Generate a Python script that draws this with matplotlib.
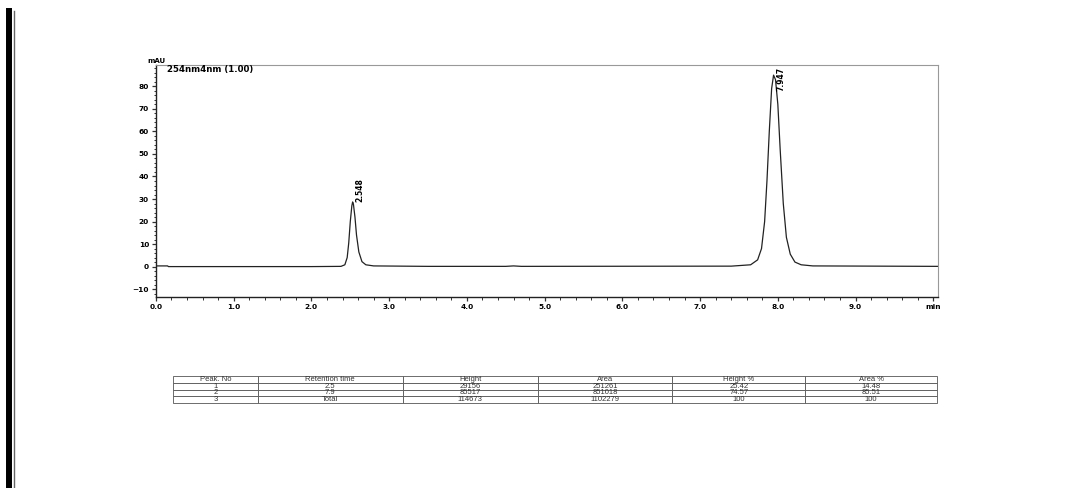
import matplotlib
matplotlib.use('Agg')
import matplotlib.pyplot as plt
from matplotlib.ticker import MultipleLocator, FixedLocator

# --- data ---
time_min = [0.0, 0.15, 0.16, 2.0, 2.38, 2.43, 2.46, 2.48, 2.50, 2.52, 2.53, 2.54, 2.56,
            2.58, 2.61, 2.65, 2.70, 2.80, 3.5, 4.5, 4.6, 4.7, 7.4, 7.65, 7.74, 7.79,
            7.83, 7.86, 7.89, 7.92, 7.945, 7.97, 8.00, 8.03, 8.07, 8.11, 8.16, 8.22,
            8.30, 8.45, 10.06]
signal_mau = [0.3, 0.3, 0.0, 0.0, 0.1, 0.8, 4.0, 10.5, 20.0, 27.0, 28.7, 27.8, 22.0,
              14.0, 6.5, 2.2, 0.8, 0.3, 0.1, 0.1, 0.3, 0.1, 0.2, 0.8, 3.0, 8.0,
              20.0, 38.0, 60.0, 79.0, 85.0, 83.0, 72.0, 52.0, 28.0, 13.0, 5.5, 2.0,
              0.8, 0.3, 0.1]

peak_labels = ['2.548', '7.947']
peak_times = [2.53, 7.945]
peak_tops = [28.7, 85.0]

table_cols = ['Peak. No', 'Retention time', 'Height', 'Area', 'Height %', 'Area %']
table_rows = [
    ['1', '2.5', '29156', '251261', '25.42', '14.48'],
    ['2', '7.9', '85517', '851018', '74.57', '85.51'],
    ['3', 'Total', '114673', '1102279', '100', '100'],
]

x_ticks = [0, 1, 2, 3, 4, 5, 6, 7, 8, 9, 10]
x_ticklabels = ['0.0', '1.0', '2.0', '3.0', '4.0', '5.0', '6.0', '7.0', '8.0', '9.0', 'min']
y_ticks = [-10, 0, 10, 20, 30, 40, 50, 60, 70, 80]

fig = plt.figure(figsize=(10.86, 4.88), dpi=100)
fig.patch.set_facecolor('white')

# thick border line on the left edge
fig.add_artist(plt.Line2D([0.0083, 0.0083], [0, 0.978], color='black', lw=4.3))
fig.add_artist(plt.Line2D([0.0125, 0.0125], [0, 0.978], color='#666666', lw=1.0))

ax = fig.add_axes([0.1436, 0.3914, 0.7201, 0.4754])
ax.plot(time_min, signal_mau, color='#222222', lw=0.9)
ax.set_xlim(0, 10.06)
ax.set_ylim(-13.5, 89.5)

ax.xaxis.set_major_locator(FixedLocator(x_ticks))
ax.set_xticklabels(x_ticklabels)
ax.xaxis.set_minor_locator(MultipleLocator(0.2))
ax.yaxis.set_major_locator(FixedLocator(y_ticks))
ax.yaxis.set_minor_locator(MultipleLocator(2))
ax.tick_params(which='major', length=3, width=0.9, labelsize=5.3, pad=2, color='#333333')
ax.tick_params(which='minor', length=1.8, width=0.7, color='#333333')
for lab in ax.get_xticklabels() + ax.get_yticklabels():
    lab.set_fontweight('bold')

for side in ['left', 'bottom']:
    ax.spines[side].set_color('#222222')
    ax.spines[side].set_linewidth(1.0)
for side in ['top', 'right']:
    ax.spines[side].set_color('#999999')
    ax.spines[side].set_linewidth(0.8)

ax.text(-0.011, 1.004, 'mAU', transform=ax.transAxes, fontsize=5, fontweight='bold',
        ha='left', va='bottom')
ax.text(0.0135, 0.998, '254nm4nm (1.00)', transform=ax.transAxes, fontsize=6.2,
        fontweight='bold', ha='left', va='top')

# retention time labels above the peaks, kept inside the plot
for t, h, lab in zip(peak_times, peak_tops, peak_labels):
    ax.text(t + 0.04, min(h, 78), lab, rotation=90, fontsize=5.5, fontweight='bold',
            ha='left', va='bottom', clip_on=True)

# peak table
tax = fig.add_axes([0.1593, 0.174, 0.7035, 0.0553])
tax.axis('off')
tbl = tax.table(cellText=table_rows, colLabels=table_cols, cellLoc='center',
                colWidths=[85, 145, 135, 135, 133, 132], bbox=[0, 0, 1, 1])
tbl.auto_set_font_size(False)
tbl.set_fontsize(5.5)
for key, cell in tbl.get_celld().items():
    cell.set_edgecolor('#555555')
    cell.set_linewidth(0.6)
    cell.get_text().set_color('#333333')
    cell.get_text().set_fontfamily('Liberation Sans')
    cell.PAD = 0.01

fig.savefig('out.png', dpi=100)
